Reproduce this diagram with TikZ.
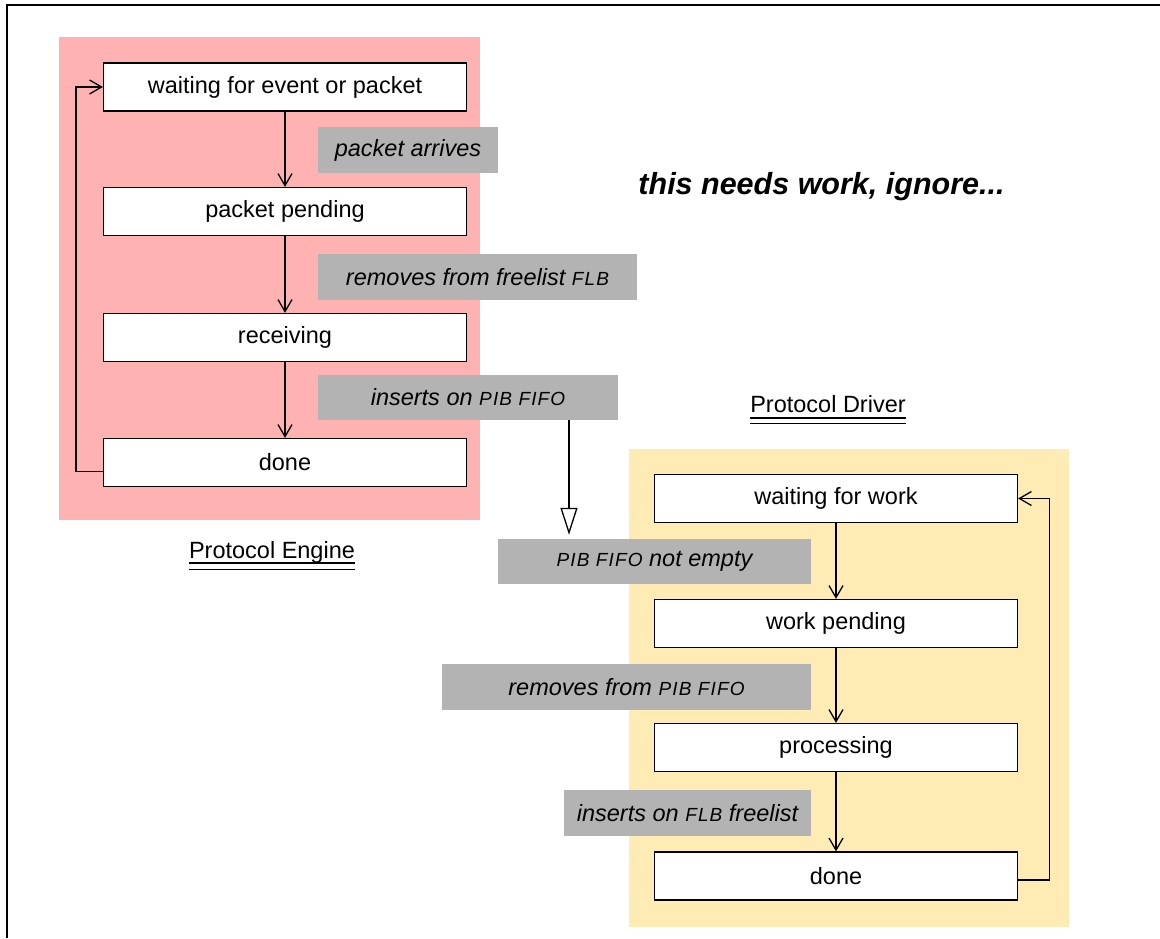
\documentclass[tikz,border=0pt]{standalone}
\usepackage{fontspec}
\setmainfont{Liberation Sans}
\newfontfamily\capsfont[LetterSpace=6]{Liberation Sans}
\usetikzlibrary{arrows.meta}

\definecolor{enginebg}{RGB}{255,178,178}
\definecolor{driverbg}{RGB}{255,236,181}
\definecolor{taggray}{RGB}{179,179,179}

% reduced capitals for buffer names
\newcommand{\bufname}[1]{{\capsfont\fontsize{19}{22}\selectfont #1}}

\begin{document}
\begin{tikzpicture}[x=1pt,y=-1pt,
  statebox/.style={draw, line width=1.3pt, fill=white, inner sep=0pt,
    minimum width=363pt, minimum height=48pt,
    font=\fontsize{23.5}{28}\selectfont},
  tag/.style={fill=taggray, inner sep=0pt,
    font=\fontsize{23.5}{28}\selectfont\itshape},
  flow/.style={line width=1.3pt, -{Straight Barb[length=12pt,width=14pt,line width=1.3pt]}},
  handoff/.style={line width=1.3pt, -{Triangle[length=27pt,width=17pt,fill=white,line width=1.3pt]}},
  heading/.style={inner sep=0pt, anchor=base, font=\fontsize{23.5}{28}\selectfont},
  underline/.style={line width=1.5pt}
]
\useasboundingbox (0,0) rectangle (1160,938);

% page frame (top and left edges)
\draw[line width=1.3pt] (1160,5) -- (7,5) -- (7,938);

% group backgrounds
\fill[enginebg] (59,37) rectangle (480,520);
\fill[driverbg] (629,449) rectangle (1069,927);

% transition labels
\node[tag, minimum width=180pt, minimum height=46pt] (L1) at (408,150) {packet arrives};
\node[tag, minimum width=319pt, minimum height=46pt] (L2) at (477.5,277) {removes from freelist \bufname{FLB}};
\node[tag, minimum width=300pt, minimum height=45pt] (L3) at (468,397.5) {inserts on \bufname{PIB FIFO}};
\node[tag, minimum width=313pt, minimum height=45pt] (R1) at (654.5,561.5) {\bufname{PIB FIFO} not empty};
\node[tag, minimum width=369pt, minimum height=46pt] (R2) at (626.5,687) {removes from \bufname{PIB FIFO}};
\node[tag, minimum width=247pt, minimum height=46pt] (R3) at (687.5,813) {inserts on \bufname{FLB} freelist};

% protocol engine states
\node[statebox] (e1) at (285,87) {waiting for event or packet};
\node[statebox] (e2) at (285,211.5) {packet pending};
\node[statebox] (e3) at (285,337.5) {receiving};
\node[statebox] (e4) at (285,462.5) {done};

% protocol driver states
\node[statebox] (d1) at (836,498.5) {waiting for work};
\node[statebox] (d2) at (836,623.5) {work pending};
\node[statebox] (d3) at (836,747.5) {processing};
\node[statebox] (d4) at (836,876) {done};

% engine transitions
\draw[flow] (e1) -- (e2);
\draw[flow] (e2) -- (e3);
\draw[flow] (e3) -- (e4);
\draw[flow] ([yshift=-9pt]e4.west) -- ++(-27,0) |- (e1.west);

% driver transitions
\draw[flow] (d1) -- (d2);
\draw[flow] (d2) -- (d3);
\draw[flow] (d3) -- (d4);
\draw[flow] ([yshift=-4pt]d4.east) -- ++(31,0) |- (d1.east);

% hand-off from engine to driver through the PIB FIFO
\coordinate (pibout) at ([xshift=101pt]L3.south);
\draw[handoff, shorten >=4pt] (pibout) -- (pibout |- R1.north);

% group titles
\node[heading] (pe) at (272,558) {Protocol Engine};
\draw[underline] ([yshift=-5pt]pe.base west) -- ([yshift=-5pt]pe.base east);
\draw[underline] ([yshift=-11.5pt]pe.base west) -- ([yshift=-11.5pt]pe.base east);

\node[heading] (pd) at (828,412) {Protocol Driver};
\draw[underline] ([yshift=-6pt]pd.base west) -- ([yshift=-6pt]pd.base east);
\draw[underline] ([yshift=-11.5pt]pd.base west) -- ([yshift=-11.5pt]pd.base east);

% note
\node[inner sep=0pt, anchor=base, font=\fontsize{30.5}{36}\selectfont\bfseries\itshape] (note) at (821.5,194) {this needs work, ignore...};
\end{tikzpicture}
\end{document}
